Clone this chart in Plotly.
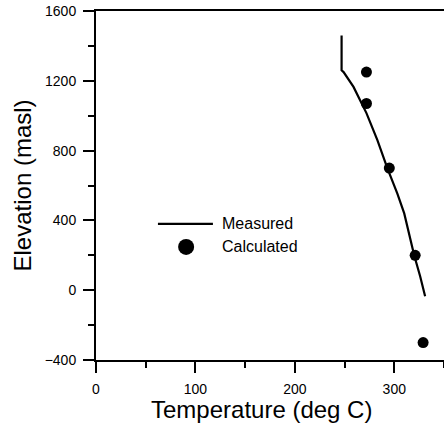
import plotly.graph_objects as go

# Measured temperature profile (line)
measured_temp = [247, 247, 249, 259, 272, 283, 293, 303, 310, 315, 320, 326, 331]
measured_elev = [1460, 1260, 1250, 1165, 1015, 860, 700, 555, 440, 325, 200, 80, -35]

# Calculated points
calc_temp = [272, 272, 295, 321, 329]
calc_elev = [1250, 1070, 700, 200, -300]

FONT = "Arial, Liberation Sans, sans-serif"

fig = go.Figure()
fig.add_trace(go.Scatter(x=measured_temp, y=measured_elev, mode="lines",
                         line=dict(color="black", width=2.2), name="Measured",
                         showlegend=False))
fig.add_trace(go.Scatter(x=calc_temp, y=calc_elev, mode="markers",
                         marker=dict(color="black", size=11), name="Calculated",
                         showlegend=False))

# Legend key (drawn in paper coordinates)
fig.add_shape(type="line", xref="paper", yref="paper", x0=0.178, x1=0.336, y0=0.390, y1=0.390,
              line=dict(color="black", width=2.2))
fig.add_shape(type="circle", xref="paper", yref="paper",
              x0=0.259 - 8/348, x1=0.259 + 8/348, y0=0.324 - 8/349, y1=0.324 + 8/349,
              fillcolor="black", line=dict(color="black", width=0))
fig.add_annotation(x=0.356, y=0.390, xref="paper", yref="paper", text="Measured",
                   showarrow=False, xanchor="left", yanchor="middle",
                   font=dict(family=FONT, size=16, color="black"))
fig.add_annotation(x=0.356, y=0.324, xref="paper", yref="paper", text="Calculated",
                   showarrow=False, xanchor="left", yanchor="middle",
                   font=dict(family=FONT, size=16, color="black"))

# Axis titles
fig.add_annotation(x=(261 - 96) / 348, y=-49 / 349, xref="paper", yref="paper",
                   text="Temperature (deg C)", showarrow=False, xanchor="center", yanchor="middle",
                   font=dict(family=FONT, size=24, color="black"))
fig.add_annotation(x=(22 - 96) / 348, y=0.5, xref="paper", yref="paper",
                   text="Elevation (masl)", showarrow=False, xanchor="center", yanchor="middle",
                   textangle=-90, font=dict(family=FONT, size=24, color="black"))

axis_common = dict(showgrid=False, zeroline=False, showline=True, linecolor="black", linewidth=2,
                   ticks="outside", ticklen=11, tickwidth=2, tickcolor="black", automargin=False,
                   ticklabelstandoff=4,
                   tickfont=dict(family=FONT, size=14, color="black"))
fig.update_xaxes(range=[0, 350], tick0=0, dtick=100, mirror=True,
                 minor=dict(dtick=50, ticks="outside", ticklen=6, tickwidth=2, tickcolor="black"),
                 **axis_common)
fig.update_yaxes(range=[-400, 1600], tick0=-400, dtick=400,
                 minor=dict(dtick=200, ticks="outside", ticklen=6, tickwidth=2, tickcolor="black"),
                 **axis_common)

fig.update_layout(width=444, height=429, margin=dict(l=96, r=0, t=11, b=69),
                  plot_bgcolor="white", paper_bgcolor="white", showlegend=False)

# Remove the default page margin so the figure fills the window exactly.
fig.write_html("out.html", config={"displayModeBar": False},
               post_script="document.body.style.margin='0';document.body.style.overflow='hidden';")
